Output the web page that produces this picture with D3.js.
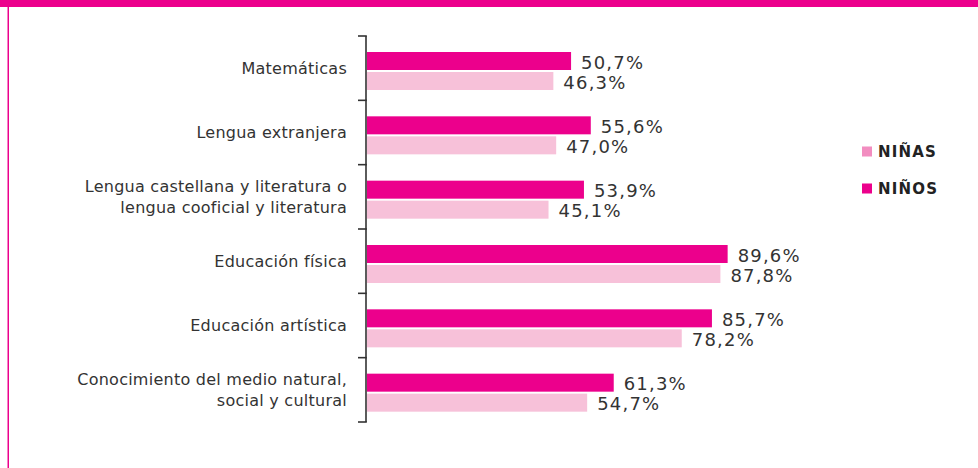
<!DOCTYPE html>
<html>
<head>
<meta charset="utf-8">
<script src="https://cdn.jsdelivr.net/npm/d3@7"></script>
<style>
  html, body { margin: 0; padding: 0; background: #fff; }
  svg { display: block; }
</style>
</head>
<body>
<svg id="chart" width="978" height="468"></svg>
<script>
const categories = [
  ["Matemáticas"],
  ["Lengua extranjera"],
  ["Lengua castellana y literatura o", "lengua cooficial y literatura"],
  ["Educación física"],
  ["Educación artística"],
  ["Conocimiento del medio natural,", "social y cultural"]
];
const series = ["NIÑOS", "NIÑAS"];
const ninos = [50.7, 55.6, 53.9, 89.6, 85.7, 61.3];
const ninas = [46.3, 47.0, 45.1, 87.8, 78.2, 54.7];
const legendItems = ["NIÑAS", "NIÑOS"];

const colors = { "NIÑOS": "#ec008c", "NIÑAS": "#f7c1d9" };
const legendColors = { "NIÑAS": "#f28dc0", "NIÑOS": "#ec008c" };
const fmt = v => d3.format(".1f")(v).replace(".", ",") + "%";

const svg = d3.select("#chart");
const W = 978, H = 468;

// frame: top magenta band + left line
svg.append("rect").attr("x", 0).attr("y", 0).attr("width", W).attr("height", 7).attr("fill", "#ec008c");
svg.append("rect").attr("x", 7.5).attr("y", 0).attr("width", 1.5).attr("height", H).attr("fill", "#ec008c");

const keys = categories.map(c => c.join(" "));
const y = d3.scaleBand().domain(keys).range([36, 422]).padding(0);
const ySub = d3.scaleBand().domain(series).range([16, 54]).paddingInner(0.1);
const x = d3.scaleLinear().domain([0, 100]).range([367, 769.5]);

const data = keys.map((k, i) => ({ key: k, lines: categories[i], vals: { "NIÑOS": ninos[i], "NIÑAS": ninas[i] } }));

// bars
const g = svg.append("g");
data.forEach(d => {
  series.forEach(s => {
    const by = y(d.key) + ySub(s);
    g.append("rect")
      .attr("x", x(0))
      .attr("y", by)
      .attr("width", x(d.vals[s]) - x(0))
      .attr("height", ySub.bandwidth())
      .attr("fill", colors[s]);
    g.append("text")
      .attr("x", x(d.vals[s]) + 10)
      .attr("y", by + ySub.bandwidth() / 2 + 1)
      .attr("dominant-baseline", "central")
      .attr("font-family", "DejaVu Sans")
      .attr("font-size", 18)
      .attr("letter-spacing", 1.2)
      .attr("fill", "#333")
      .text(fmt(d.vals[s]));
  });
});

// axis line and ticks at band boundaries
const axisX = 366;
const boundaries = keys.map(k => y(k)).concat([y.range()[1]]);
svg.append("line").attr("x1", axisX).attr("x2", axisX)
  .attr("y1", boundaries[0]).attr("y2", boundaries[boundaries.length - 1])
  .attr("stroke", "#333").attr("stroke-width", 1.6);
boundaries.forEach(b => {
  svg.append("line").attr("x1", axisX - 8).attr("x2", axisX + 0.8)
    .attr("y1", b).attr("y2", b)
    .attr("stroke", "#333").attr("stroke-width", 1.6);
});

// category labels
data.forEach(d => {
  const cy = y(d.key) + y.bandwidth() / 2;
  const n = d.lines.length;
  const lh = 20.5;
  const t = svg.append("text")
    .attr("text-anchor", "end")
    .attr("font-family", "DejaVu Sans")
    .attr("font-size", 16)
    .attr("letter-spacing", 0.25)
    .attr("fill", "#333");
  d.lines.forEach((line, j) => {
    t.append("tspan")
      .attr("x", 347)
      .attr("y", cy + (j - (n - 1) / 2) * lh)
      .attr("dominant-baseline", "central")
      .text(line);
  });
});

// legend
const leg = d3.scaleBand().domain(legendItems).range([133, 207]);
legendItems.forEach(s => {
  const cy = leg(s) + leg.bandwidth() / 2;
  svg.append("rect").attr("x", 862).attr("y", cy - 5).attr("width", 10).attr("height", 10).attr("fill", legendColors[s]);
  svg.append("text").attr("x", 878).attr("y", cy + 0.5)
    .attr("dominant-baseline", "central")
    .attr("font-family", "DejaVu Sans")
    .attr("font-weight", "bold")
    .attr("font-size", 15)
    .attr("letter-spacing", 1.2)
    .attr("fill", "#222")
    .text(s);
});
</script>
</body>
</html>
